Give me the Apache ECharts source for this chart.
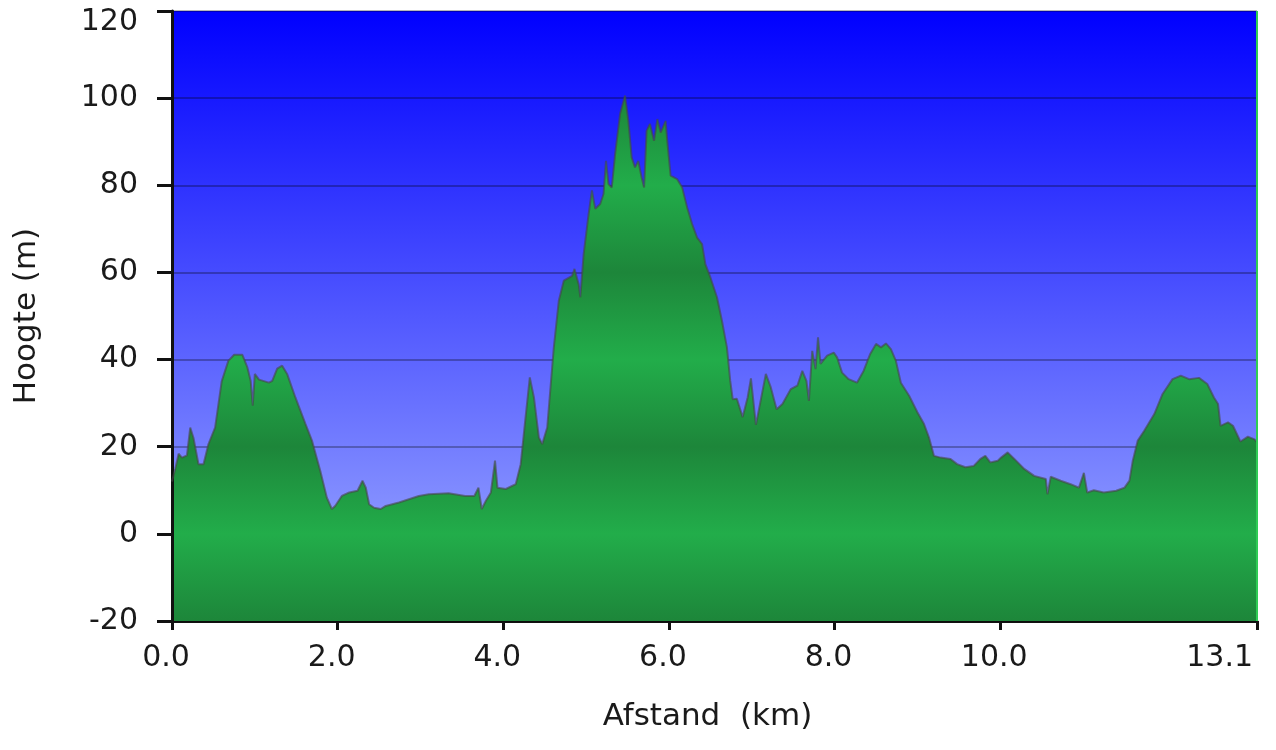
<!DOCTYPE html>
<html>
<head>
<meta charset="utf-8">
<script src="https://cdn.jsdelivr.net/npm/echarts@6/dist/echarts.min.js"></script>
<style>
  html, body { margin: 0; padding: 0; background: #fff; }
  #profile { width: 1276px; height: 750px; }
</style>
</head>
<body>
<div id="profile"></div>
<script>
// hoogteprofiel: afstand (km) tegen hoogte (m)
var distanceKm = [
  0.00, 0.04, 0.08, 0.12, 0.18, 0.22, 0.26, 0.32, 0.38, 0.44, 0.52, 0.60, 0.68, 0.75, 0.85, 0.91, 0.95, 0.975,
  1.00, 1.05, 1.17, 1.21, 1.27, 1.33, 1.39, 1.49, 1.61, 1.69, 1.79, 1.87, 1.93, 1.97,
  2.05, 2.14, 2.24, 2.30, 2.34, 2.38, 2.44, 2.52, 2.58, 2.74, 2.98, 3.10, 3.34, 3.54, 3.65, 3.70, 3.74, 3.79, 3.85, 3.90, 3.93,
  4.03, 4.15, 4.21, 4.26, 4.32, 4.37, 4.43, 4.47, 4.53, 4.61, 4.67, 4.73, 4.83, 4.86, 4.91, 4.93, 4.97,
  5.03, 5.07, 5.11, 5.17, 5.21, 5.24, 5.27, 5.31, 5.35, 5.41, 5.47, 5.51, 5.55, 5.59, 5.63, 5.67, 5.70, 5.73, 5.77, 5.82, 5.86, 5.90, 5.96, 5.98,
  6.02, 6.10, 6.16, 6.22, 6.28, 6.34, 6.40, 6.44, 6.50, 6.58, 6.64, 6.70, 6.74, 6.77, 6.82, 6.89, 6.95, 6.99,
  7.05, 7.17, 7.23, 7.30, 7.37, 7.47, 7.55, 7.61, 7.66, 7.69, 7.73, 7.77, 7.80, 7.83, 7.91, 7.99,
  8.03, 8.09, 8.17, 8.27, 8.35, 8.43, 8.50, 8.56, 8.62, 8.68, 8.74, 8.80, 8.90,
  9.00, 9.08, 9.14, 9.20, 9.28, 9.40, 9.48, 9.58, 9.68, 9.76, 9.82, 9.88, 9.97,
  10.01, 10.09, 10.17, 10.29, 10.41, 10.55, 10.57, 10.61, 10.73, 10.85, 10.95,
  11.01, 11.05, 11.13, 11.25, 11.40, 11.50, 11.56, 11.60, 11.66, 11.74, 11.86, 11.96,
  12.08, 12.18, 12.28, 12.40, 12.50, 12.58, 12.63, 12.66, 12.75, 12.81, 12.90, 12.99, 13.07, 13.10
];
var elevationM = [
  12, 15, 18.4, 17.5, 18, 24.4, 22, 16, 16, 20.6, 24.4, 35, 39.7, 41.1, 41.1, 38.2, 35.1, 29.4,
  36.7, 35.4, 34.7, 35.1, 37.9, 38.6, 36.7, 31.3, 25.3, 21.4, 14.5, 8.3, 5.7, 6.4,
  8.7, 9.5, 9.9, 12.2, 10.6, 6.8, 6.0, 5.7, 6.4, 7.2, 8.7, 9.1, 9.3, 8.7, 8.7, 10.6, 5.7, 7.6, 9.5, 16.8, 10.6,
  10.3, 11.4, 16.0, 25.2, 35.9, 31.3, 22.1, 20.6, 24.4, 42.8, 53.5, 58.1, 59.2, 60.8, 57.3, 54.3, 64.2,
  73.4, 78.8, 74.6, 75.7, 78.0, 85.6, 80.3, 79.5, 87.2, 96.4, 100.6, 94.8, 86.4, 84.1, 85.6, 81.8, 79.5, 92.5, 94.1, 90.2, 95.2, 92.1, 94.8, 90.2,
  82.2, 81.4, 79.5, 74.9, 71.1, 68.0, 66.5, 61.9, 58.9, 54.3, 48.9, 42.8, 35.1, 30.9, 31.0, 26.8, 31.3, 35.7,
  25.0, 36.7, 33.6, 28.6, 29.8, 33.2, 34.0, 37.4, 35.1, 30.5, 42.0, 37.8, 45.1, 39.0, 40.9, 41.6,
  40.5, 37.0, 35.5, 34.7, 37.4, 41.3, 43.6, 42.8, 43.7, 42.4, 39.7, 34.7, 31.7,
  27.9, 25.2, 22.1, 17.9, 17.5, 17.2, 16.0, 15.3, 15.6, 17.2, 17.9, 16.4, 16.8,
  17.5, 18.7, 17.2, 14.9, 13.3, 12.6, 9.1, 13.1, 12.2, 11.4, 10.6,
  14.0, 9.5, 10.0, 9.5, 9.9, 10.6, 12.2, 16.8, 21.4, 23.7, 27.5, 32.1,
  35.5, 36.3, 35.5, 35.8, 34.4, 31.3, 29.8, 24.8, 25.6, 24.8, 21.2, 22.3, 21.7, 21.0
];
var xTickValues = [0, 2, 4, 6, 8, 10, 13.1];
var yMin = -20, yMax = 120, yStep = 20;

var points = [];
for (var i = 0; i < distanceKm.length; i++) {
  points.push([distanceKm[i], elevationM[i]]);
}

var fontName = 'DejaVu Sans';
var textColor = '#1a1a1a';

// groen vlak met banden, in pixels van het plotvlak (top 11, onder 621)
var lightGreen = '#22ad4a', darkGreen = '#1d863a';
var greenStops = [];
for (var v = yMax; v >= yMin; v -= yStep) {
  var idx = (yMax - v) / yStep;
  greenStops.push({ offset: (yMax - v) / (yMax - yMin), color: idx % 2 === 0 ? lightGreen : darkGreen });
}

var chart = echarts.init(document.getElementById('profile'));
var option = {
  animation: false,
  grid: {
    left: 172, right: 19, top: 11, bottom: 129,
    show: true,
    borderWidth: 0,
    backgroundColor: new echarts.graphic.LinearGradient(0, 0, 0, 1, [
      { offset: 0, color: '#0000ff' },
      { offset: 1, color: '#a2b0ff' }
    ])
  },
  xAxis: {
    type: 'value',
    min: 0,
    max: 13.1,
    name: 'Afstand  (km)',
    nameLocation: 'middle',
    nameGap: 80,
    nameTextStyle: { fontFamily: fontName, fontSize: 31, color: textColor, padding: [0, 14, 0, 0] },
    axisLine: { onZero: false, lineStyle: { color: '#111', width: 3 } },
    axisTick: { show: true, length: 9, customValues: xTickValues, lineStyle: { color: '#111', width: 3 } },
    axisLabel: {
      customValues: xTickValues,
      margin: 22,
      alignMaxLabel: 'right',
      fontFamily: fontName, fontSize: 30, color: textColor,
      formatter: function (v) {
        return v === 13.1 ? '{e|13.1}' : '{n|' + v.toFixed(1) + '}';
      },
      rich: {
        n: { fontFamily: fontName, fontSize: 30, color: textColor, padding: [0, 12, 0, 0] },
        e: { fontFamily: fontName, fontSize: 30, color: textColor, padding: [0, 4, 0, 0] }
      }
    },
    splitLine: { show: false }
  },
  yAxis: {
    type: 'value',
    min: yMin,
    max: yMax,
    interval: yStep,
    z: 3,
    name: 'Hoogte (m)',
    nameLocation: 'middle',
    nameGap: 130,
    nameRotate: 90,
    nameTextStyle: { fontFamily: fontName, fontSize: 31, color: textColor },
    axisLine: { show: true, onZero: false, lineStyle: { color: '#111', width: 3 } },
    axisTick: { show: true, length: 15, lineStyle: { color: '#111', width: 3 } },
    axisLabel: {
      margin: 34,
      fontFamily: fontName, fontSize: 30, color: textColor,
      formatter: function (v) {
        return v === yMax ? '{top|' + v + '}' : '{n|' + v + '}';
      },
      rich: {
        n: { fontFamily: fontName, fontSize: 30, color: textColor },
        top: { fontFamily: fontName, fontSize: 30, color: textColor, padding: [22, 0, 0, 0] }
      }
    },
    splitLine: { show: true, lineStyle: { color: 'rgba(0,0,0,0.28)', width: 2 } }
  },
  series: [{
    type: 'line',
    data: points,
    symbol: 'none',
    smooth: false,
    lineStyle: { color: 'rgba(70,70,70,0.6)', width: 2 },
    areaStyle: {
      origin: 'start',
      opacity: 1,
      color: new echarts.graphic.LinearGradient(0, 11, 0, 621, greenStops, true)
    },
    markLine: {
      silent: true,
      symbol: 'none',
      label: { show: false },
      lineStyle: { color: '#2ecc55', width: 2, type: 'solid' },
      data: [{ xAxis: 13.1 }]
    }
  }]
};
chart.setOption(option);
</script>
</body>
</html>
